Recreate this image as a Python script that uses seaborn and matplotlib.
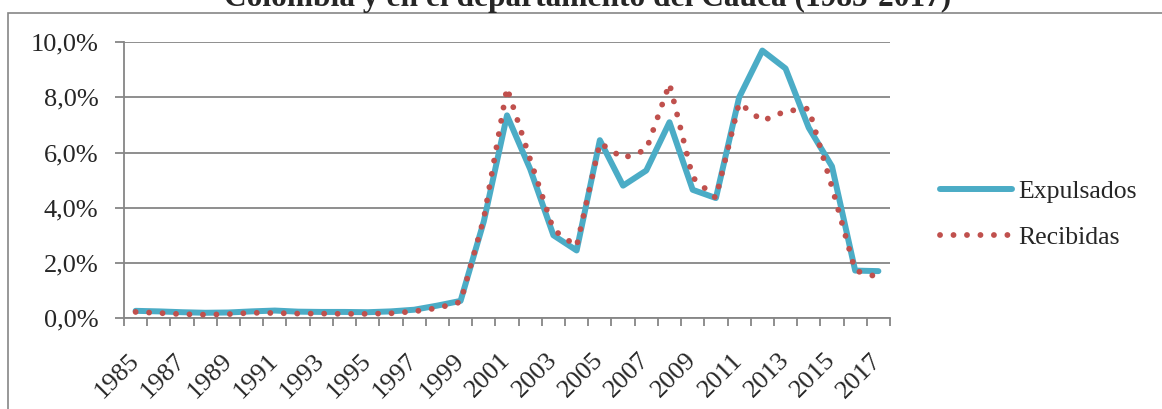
import pandas as pd
import matplotlib
matplotlib.use('Agg')
import matplotlib.pyplot as plt
import seaborn as sns
from matplotlib.patches import Rectangle
from matplotlib.ticker import FixedLocator, FuncFormatter

# %%
# datos (porcentaje anual)
years = list(range(1985, 2018))
expulsados = [0.26, 0.24, 0.21, 0.19, 0.20, 0.24, 0.27, 0.23, 0.22, 0.22, 0.21,
              0.24, 0.30, 0.45, 0.62, 3.50, 7.35, 5.40, 3.00, 2.45, 6.45, 4.80,
              5.35, 7.10, 4.65, 4.35, 8.00, 9.70, 9.05, 6.90, 5.50, 1.72, 1.70]
recibidas = [0.22, 0.18, 0.14, 0.12, 0.14, 0.19, 0.18, 0.16, 0.16, 0.15, 0.15,
             0.17, 0.24, 0.36, 0.58, 3.60, 8.35, 5.75, 3.20, 2.60, 6.35, 5.80,
             6.10, 8.50, 5.10, 4.35, 7.80, 7.15, 7.50, 7.60, 4.75, 1.72, 1.48]
series_names = ['Expulsados', 'Recibidas']
title = 'Colombia y en el departamento del Cauca (1985-2017)'

df = pd.DataFrame({'year': years, 'Expulsados': expulsados, 'Recibidas': recibidas})

# %%
sns.set_theme(style='white')
plt.rcParams['font.family'] = ['Liberation Serif', 'DejaVu Serif']

W, H = 1162, 409
fig = plt.figure(figsize=(W / 100, H / 100), dpi=100)
ax = fig.add_axes([124 / W, 1 - 318 / H, (890 - 124) / W, (318 - 42.3) / H])

grey = '#868686'
sns.lineplot(data=df, x='year', y='Expulsados', ax=ax, color='#4BACC6',
             linewidth=4.3, solid_joinstyle='round', solid_capstyle='round',
             label=series_names[0], zorder=3)
sns.lineplot(data=df, x='year', y='Recibidas', ax=ax, color='#C0504D',
             linewidth=4.2, linestyle=(0, (0.01, 2.3)), dash_capstyle='round',
             label=series_names[1], zorder=4)

ax.set_xlim(years[0] - 0.5, years[-1] + 0.5)
ax.set_ylim(0, 10)
ax.set_xlabel('')
ax.set_ylabel('')

# ejes
for s in ['top', 'right']:
    ax.spines[s].set_visible(False)
for s in ['left', 'bottom']:
    ax.spines[s].set_color(grey)
    ax.spines[s].set_linewidth(1.3)
ax.yaxis.grid(True, color=grey, linewidth=1.3)
ax.set_axisbelow(True)

ax.set_yticks([0, 2, 4, 6, 8, 10])
ax.yaxis.set_major_formatter(FuncFormatter(lambda v, p: f'{v:.1f}%'.replace('.', ',')))
ax.tick_params(axis='y', which='major', length=6.5, width=1.3, color=grey,
               direction='out', pad=12, labelsize=19, left=True)

ax.set_xticks(years[::2])
ax.set_xticklabels([str(y) for y in years[::2]], rotation=45, ha='right',
                   rotation_mode='anchor', va='center')
ax.xaxis.set_minor_locator(FixedLocator([y - 0.5 for y in years] + [years[-1] + 0.5]))
ax.tick_params(axis='x', which='major', length=0, pad=28, labelsize=19, bottom=True)
ax.tick_params(axis='x', which='minor', length=6, width=1.3, color=grey,
               direction='out', bottom=True)

# leyenda
leg = ax.legend(loc='center left', bbox_to_anchor=(940 / W, 1 - 214.5 / H),
                bbox_transform=fig.transFigure, frameon=False, fontsize=18.5,
                handlelength=2.8, handletextpad=0.25, labelspacing=0.9,
                borderpad=0, borderaxespad=0)

# titulo (recortado arriba, como en el original) y marco
fig.text(588 / W, 1 - 6 / H, title, ha='center', va='baseline',
         fontsize=22.6, fontweight='bold')
fig.add_artist(Rectangle((8 / W, -0.5), 1.5, 1.5 - 12.7 / H, transform=fig.transFigure,
                         fill=False, edgecolor=grey, linewidth=1.2))

fig.savefig('out.png', dpi=100)
